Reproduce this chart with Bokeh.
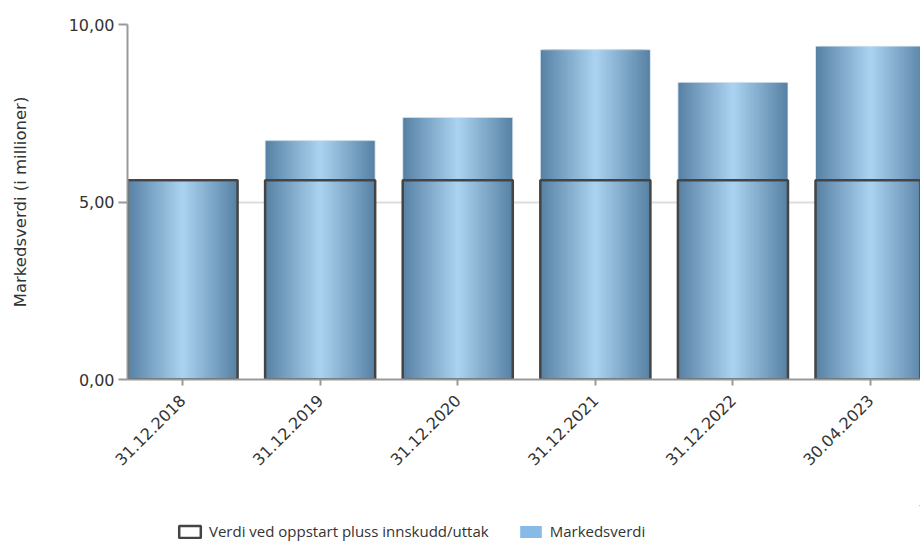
from bokeh.plotting import figure
from bokeh.models import Range1d, FixedTicker, Legend, LegendItem
from bokeh.layouts import column
from bokeh.embed import file_html
from bokeh.resources import INLINE

# ---- data ----
dates = ["31.12.2018", "31.12.2019", "31.12.2020", "31.12.2021", "31.12.2022", "30.04.2023"]
markedsverdi = [5.60, 6.73, 7.38, 9.29, 8.37, 9.39]
innskudd = [5.61, 5.61, 5.61, 5.61, 5.61, 5.61]
y_ticks = [0, 5, 10]
y_tick_labels = ["0,00", "5,00", "10,00"]
legend_labels = ["Verdi ved oppstart pluss innskudd/uttak", "Markedsverdi"]

xs = list(range(len(dates)))
BAR_W = 0.8
EDGE = (88, 130, 165)
CENTER = (170, 210, 240)
N = 36
OUTLINE = "#444444"
LEG_BLUE = "#87bae7"

p = figure(width=920, height=505, output_backend="svg", toolbar_location=None,
           x_range=Range1d(-0.4, 5.363), y_range=Range1d(0, 10),
           min_border_left=127, min_border_right=0, min_border_top=24, min_border_bottom=126)
p.outline_line_color = None

# gradient bars: nested centred bars, darkest widest
for k in range(N):
    t = k / (N - 1)
    c = tuple(int(round(EDGE[i] + (CENTER[i] - EDGE[i]) * t)) for i in range(3))
    w = BAR_W * (1 - k / N)
    p.vbar(x=xs, top=markedsverdi, bottom=0, width=w,
           fill_color="#%02x%02x%02x" % c, line_color=None)
# faint light top edge of the market-value bars
p.vbar(x=xs, top=markedsverdi, bottom=0, width=BAR_W, fill_color=None,
       line_color="#e6eef5", line_width=1, line_alpha=0.8)

p.vbar(x=xs, top=innskudd, bottom=0, width=BAR_W, fill_color=None,
       line_color=OUTLINE, line_width=2.5)

# axes
p.xgrid.visible = False
p.ygrid.grid_line_color = "#dddddd"
p.ygrid.grid_line_width = 2
p.yaxis.ticker = FixedTicker(ticks=y_ticks)
p.yaxis.major_label_overrides = {t: l for t, l in zip(y_ticks, y_tick_labels)}
p.yaxis.axis_label = "Markedsverdi (i millioner)"
p.yaxis.axis_label_text_font = "DejaVu Sans"
p.yaxis.axis_label_text_font_style = "normal"
p.yaxis.axis_label_text_font_size = "16.5px"
p.yaxis.axis_label_text_color = "#333333"
p.yaxis.axis_label_standoff = 36
p.xaxis.ticker = FixedTicker(ticks=xs)
p.xaxis.major_label_overrides = {x: d for x, d in zip(xs, dates)}
p.xaxis.major_label_orientation = 3.14159265 / 4
for ax in (p.xaxis, p.yaxis):
    ax.axis_line_color = "#999999"
    ax.axis_line_width = 2
    ax.major_tick_line_color = "#999999"
    ax.major_tick_line_width = 2
    ax.minor_tick_line_color = None
    ax.major_tick_in = 0
    ax.major_label_text_font = "DejaVu Sans"
    ax.major_label_text_font_size = "16px"
    ax.major_label_text_color = "#333333"
p.yaxis.major_tick_out = 9
p.yaxis.major_label_standoff = 4
p.xaxis.major_tick_out = 6
p.xaxis.major_label_standoff = 12

# legend strip below (proxy glyphs lie outside the visible range)
lg = figure(width=920, height=38, output_backend="svg", toolbar_location=None,
            x_range=Range1d(0, 1), y_range=Range1d(0, 1),
            x_axis_location=None, y_axis_location=None,
            min_border_left=0, min_border_right=0, min_border_top=0, min_border_bottom=0)
lg.outline_line_color = None
lg.grid.visible = False
r1 = lg.vbar(x=[5], top=[5], bottom=[4], width=0.1, fill_color=None, line_color=OUTLINE, line_width=2.5)
r2 = lg.vbar(x=[5], top=[5], bottom=[4], width=0.1, fill_color=LEG_BLUE, line_color=None)
legend = Legend(items=[LegendItem(label=legend_labels[0], renderers=[r1]),
                       LegendItem(label=legend_labels[1], renderers=[r2])],
                orientation="horizontal", location=(49, 2),
                glyph_width=27, glyph_height=15, label_standoff=6, spacing=28,
                padding=0, margin=0, border_line_color=None, background_fill_alpha=0,
                label_text_font="Open Sans", label_text_font_size="15px",
                label_text_color="#333333", label_height=14)
lg.add_layout(legend, "center")

open("out.html", "w").write(file_html(column(p, lg, spacing=0), INLINE))
